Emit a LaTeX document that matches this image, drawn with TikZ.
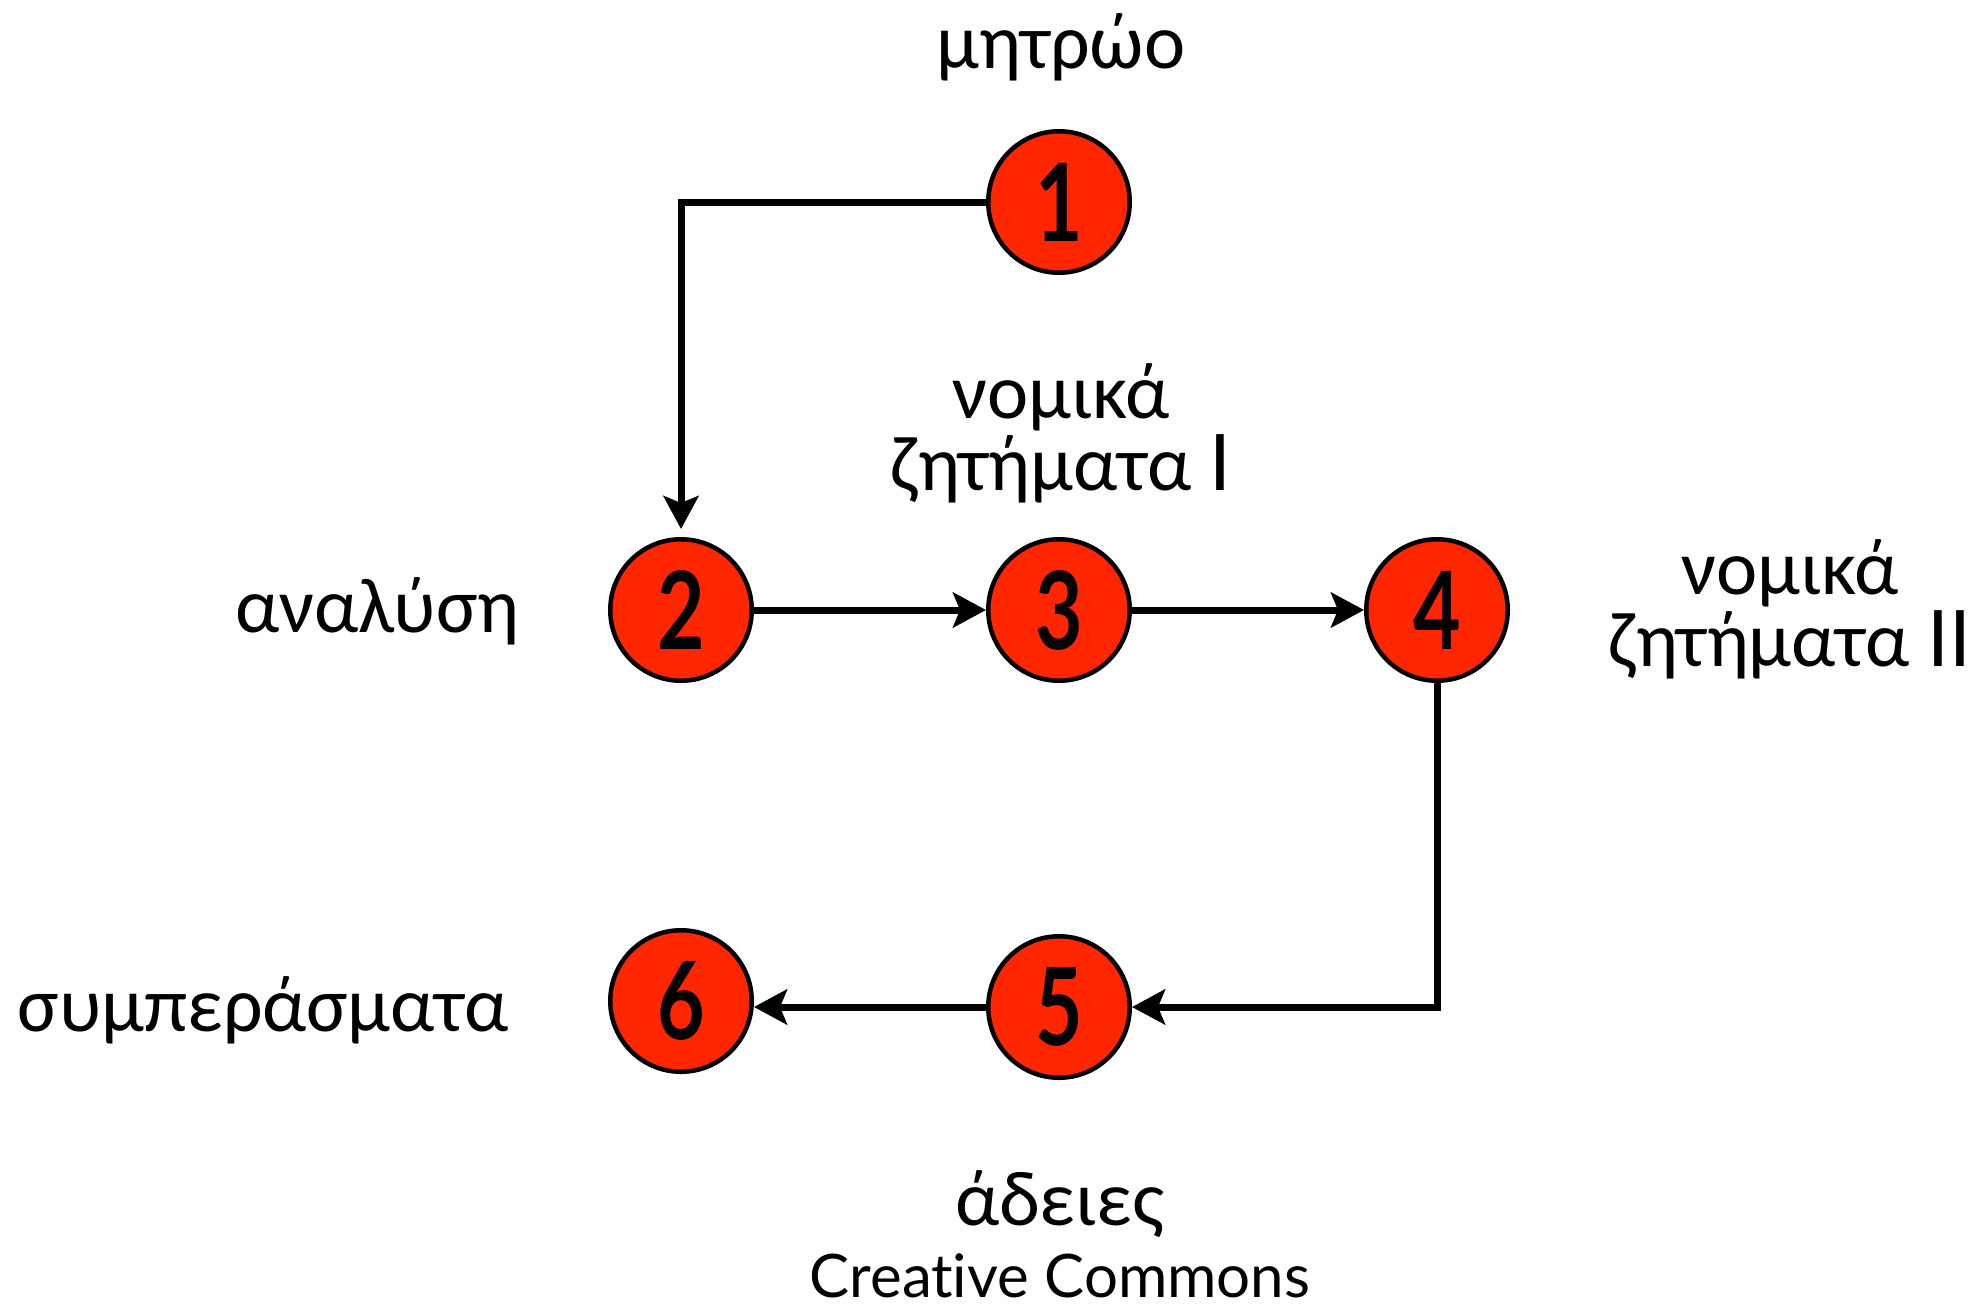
\documentclass[tikz,border=0pt]{standalone}
\usepackage{fontspec}
\setmainfont{Carlito}
\newfontfamily\latfont[Ligatures=NoCommon]{Lato}
\usetikzlibrary{arrows.meta}
\definecolor{nodered}{RGB}{255,38,0}
\tikzset{
  stepnode/.style={circle, draw=black, line width=2.25pt, fill=nodered,
    minimum size=70.75pt, inner sep=0pt, font=\latfont\bfseries\fontsize{54}{54}\selectfont},
  lbl/.style={inner sep=0pt, font=\fontsize{39}{36}\selectfont},
  twoline/.style={lbl, align=center},
  conn/.style={line width=3.5pt, -{Stealth[length=16.5pt, width=17.5pt, inset=3.5pt]}},
}
\newcommand{\dig}[1]{\scalebox{0.76}[1]{#1}}
\begin{document}
\begin{tikzpicture}[x=0.5pt, y=-0.5pt]
\useasboundingbox (0,0) rectangle (1984,1308);
% nodes
\node[stepnode] (n1) at (1059,202) {\dig{1}};
\node[stepnode] (n2) at (681,610) {\dig{2}};
\node[stepnode] (n3) at (1059,610) {\dig{3}};
\node[stepnode] (n4) at (1437,610) {\dig{4}};
\node[stepnode] (n5) at (1059,1007) {\dig{5}};
\node[stepnode] (n6) at (681,1001) {\dig{6}};
% labels (base anchor = baseline of the last line)
\node[lbl, anchor=base] (l1) at (1061,68) {μητρώο};
\node[twoline, anchor=base] (l3) at (1061,490) {νομικά\\ζητήματα {\latfont I}};
\node[lbl, anchor=base east] (l2) at (520,632) {αναλύση};
\node[twoline, anchor=base] (l4) at (1790,666) {νομικά\\ζητήματα {\latfont II}};
\node[lbl, anchor=base east] (l6) at (509,1031) {συμπεράσματα};
\node[twoline, anchor=base] (l5) at (1060,1297) {άδειες\\{\latfont\fontsize{30}{36}\selectfont Creative Commons}};
% connectors
\draw[conn, shorten >=4pt] (n1.west) -| (n2.north);
\draw[conn] (n2) -- (n3);
\draw[conn] (n3) -- (n4);
\draw[conn] (n4.south) |- (n5.east);
\draw[conn] (n5.west) -- (n5.west -| n6.east);
\end{tikzpicture}
\end{document}
